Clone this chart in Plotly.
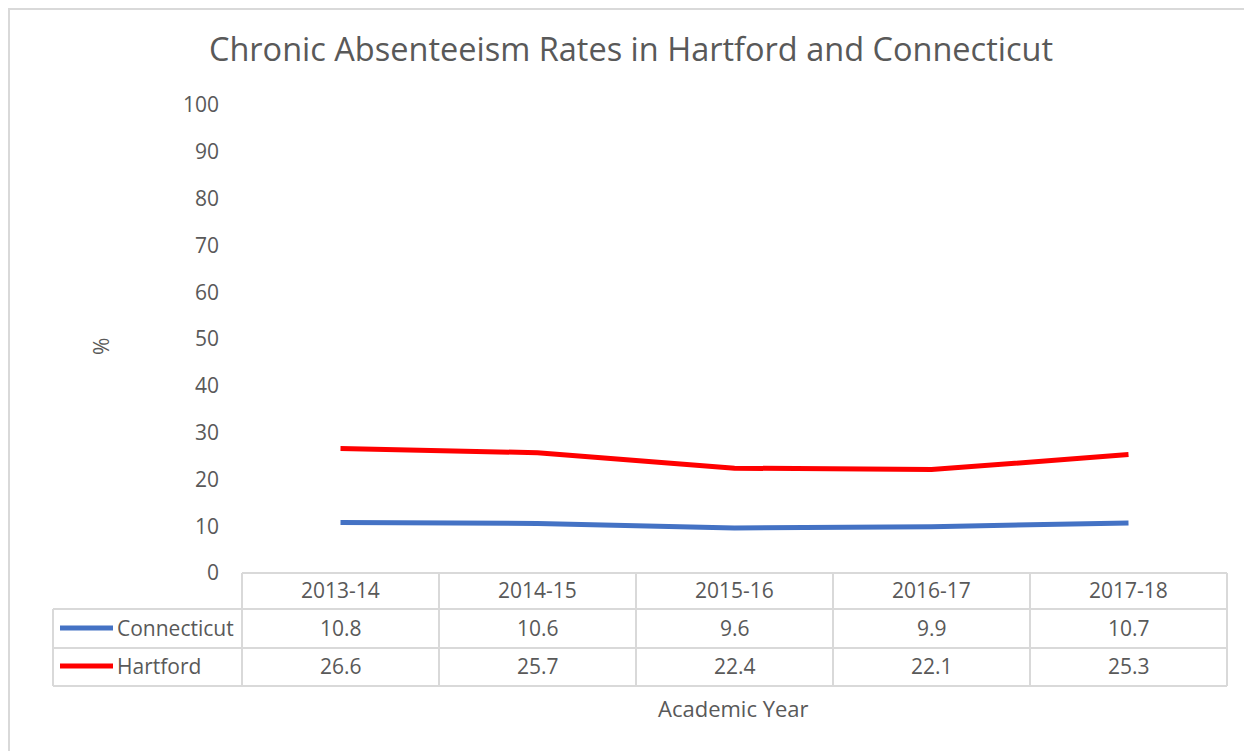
import plotly.graph_objects as go

years = ["2013-14", "2014-15", "2015-16", "2016-17", "2017-18"]
connecticut = [10.8, 10.6, 9.6, 9.9, 10.7]
hartford = [26.6, 25.7, 22.4, 22.1, 25.3]
series_names = ["Connecticut", "Hartford"]
series_colors = ["#4472C4", "#FF0000"]
title_text = "Chronic Absenteeism Rates in Hartford and Connecticut"

W, H = 1252, 751
OFF = 8  # page body margin
L, R, T, B = 242 - OFF, 25 + OFF, 105 - OFF, 178 + OFF
PW, PH = W - L - R, H - T - B
TXT = "#595959"
GRID = "#D9D9D9"
FONT = "Open Sans, Liberation Sans, Arial"


def px(x):
    return (x - OFF - L) / PW


def py(y):
    return (H - B - (y - OFF)) / PH


fig = go.Figure()
for name, vals, col in zip(series_names, [connecticut, hartford], series_colors):
    fig.add_trace(go.Scatter(x=years, y=vals, mode="lines", name=name,
                             line=dict(color=col, width=5), showlegend=False))

shapes = []
# outer chart border (top/left visible, right/bottom run off the page)
shapes.append(dict(type="rect", xref="paper", yref="paper", x0=px(9), x1=px(1290),
                   y0=py(9), y1=py(800), line=dict(color=GRID, width=2)))
# table grid
row_y = [573, 609, 648, 686]
col_x = [242 + i * 197 for i in range(6)]
for i, y in enumerate(row_y):
    shapes.append(dict(type="line", xref="paper", yref="paper",
                       x0=px(242 if i == 0 else 53), x1=px(1227), y0=py(y), y1=py(y),
                       line=dict(color=GRID, width=2)))
for x in col_x:
    shapes.append(dict(type="line", xref="paper", yref="paper", x0=px(x), x1=px(x),
                       y0=py(573), y1=py(686), line=dict(color=GRID, width=2)))
shapes.append(dict(type="line", xref="paper", yref="paper", x0=px(53), x1=px(53),
                   y0=py(609), y1=py(686), line=dict(color=GRID, width=2)))
# legend keys
for j, col in enumerate(series_colors):
    yc = [628, 666][j]
    shapes.append(dict(type="line", xref="paper", yref="paper", x0=px(60), x1=px(113),
                       y0=py(yc), y1=py(yc), line=dict(color=col, width=5)))

fnt = dict(size=21, color=TXT, family=FONT)
annotations = []
for yr in years:
    annotations.append(dict(x=yr, xref="x", y=py(590), yref="paper", text=yr,
                            xanchor="center", yanchor="middle",
                            showarrow=False, font=fnt))
for j, vals in enumerate([connecticut, hartford]):
    yc = [628, 666][j]
    for yr, v in zip(years, vals):
        annotations.append(dict(x=yr, xref="x", y=py(yc), yref="paper", text=f"{v}",
                                xanchor="center", yanchor="middle",
                                showarrow=False, font=fnt))
    annotations.append(dict(x=px(115), xref="paper", y=py(yc), yref="paper",
                            text=series_names[j], xanchor="left", yanchor="middle",
                            showarrow=False, font=fnt))
annotations.append(dict(x=px(101), xref="paper", y=py(347), yref="paper", text="%",
                        textangle=-90, xanchor="center", yanchor="middle",
                        showarrow=False, font=fnt))
annotations.append(dict(x=px(733), xref="paper", y=py(708), yref="paper",
                        text="Academic Year", xanchor="center", yanchor="middle",
                        showarrow=False, font=dict(size=22, color=TXT, family=FONT)))

fig.update_layout(
    width=W, height=H,
    margin=dict(l=L, r=R, t=T, b=B),
    paper_bgcolor="white", plot_bgcolor="white",
    title=dict(text=title_text, x=(631 - OFF) / W, xanchor="center", y=1 - (50 - OFF) / H,
               yanchor="middle", font=dict(size=32.5, color=TXT, family=FONT)),
    xaxis=dict(type="category", range=[-0.5, 4.5], showticklabels=False,
               showgrid=False, zeroline=False, showline=False, ticks=""),
    yaxis=dict(range=[0, 100], dtick=10, showgrid=False, zeroline=False, showline=False,
               ticks="", ticklabelstandoff=22,
               tickfont=dict(size=21, color=TXT, family=FONT)),
    shapes=shapes, annotations=annotations,
)
fig.write_html("out.html")
